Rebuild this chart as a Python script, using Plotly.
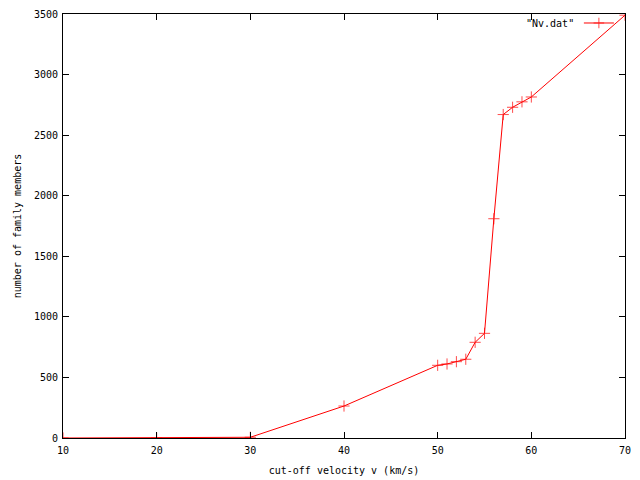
import plotly.graph_objects as go

velocity = [10, 20, 25, 30, 40, 50, 51, 52, 53, 54, 55, 56, 57, 58, 59, 60, 70]
members = [0, 0, 6, 6, 264, 600, 611, 630, 650, 790, 864, 1810, 2670, 2730, 2775, 2815, 3490]
marker_sizes = [8, 8, 0, 8, 8, 8, 8, 8, 8, 8, 8, 8, 8, 8, 8, 8, 8]

x_ticks = [10, 20, 30, 40, 50, 60, 70]
y_ticks = [0, 500, 1000, 1500, 2000, 2500, 3000, 3500]

FONT = "DejaVu Sans Mono"
FS = 10

fig = go.Figure()
fig.add_trace(go.Scatter(
    x=velocity, y=members, mode="lines+markers", name="",
    line=dict(color="#ff0000", width=1),
    marker=dict(symbol="cross-thin", size=marker_sizes,
                line=dict(color="#ff0000", width=1), color="#ff0000"),
    showlegend=True,
))

axis_common = dict(
    showgrid=False, zeroline=False, showline=True, linecolor="black", linewidth=1,
    mirror="ticks", ticks="inside", ticklen=6, tickcolor="black", automargin=False,
    tickfont=dict(family=FONT, size=FS, color="black"),
)

fig.update_layout(
    width=640, height=480,
    margin=dict(l=63, r=15, t=14, b=42, autoexpand=False),
    paper_bgcolor="white", plot_bgcolor="white",
    font=dict(family=FONT, size=FS, color="black"),
    xaxis=dict(range=[10, 70], tickvals=x_ticks, ticktext=[str(v) for v in x_ticks],
               ticklabelstandoff=3,
               title=dict(text="cut-off velocity v (km/s)", standoff=11,
                          font=dict(family=FONT, size=FS)),
               **axis_common),
    yaxis=dict(range=[0, 3500], tickvals=y_ticks, ticktext=[str(v) for v in y_ticks],
               ticklabelstandoff=2,
               title=dict(text="number of family members", standoff=10,
                          font=dict(family=FONT, size=FS)),
               **axis_common),
    legend=dict(x=0.998, y=1.013, xanchor="right", yanchor="top",
                bgcolor="rgba(0,0,0,0)", borderwidth=0,
                font=dict(family=FONT, size=FS), itemwidth=30),
    annotations=[dict(text='"Nv.dat"', xref="paper", yref="paper",
                      x=0.912, y=0.977, xanchor="right", yanchor="middle",
                      showarrow=False, font=dict(family=FONT, size=FS))],
)

fig.write_html("out.html", config={"displayModeBar": False},
               post_script="document.body.style.margin='0';")
